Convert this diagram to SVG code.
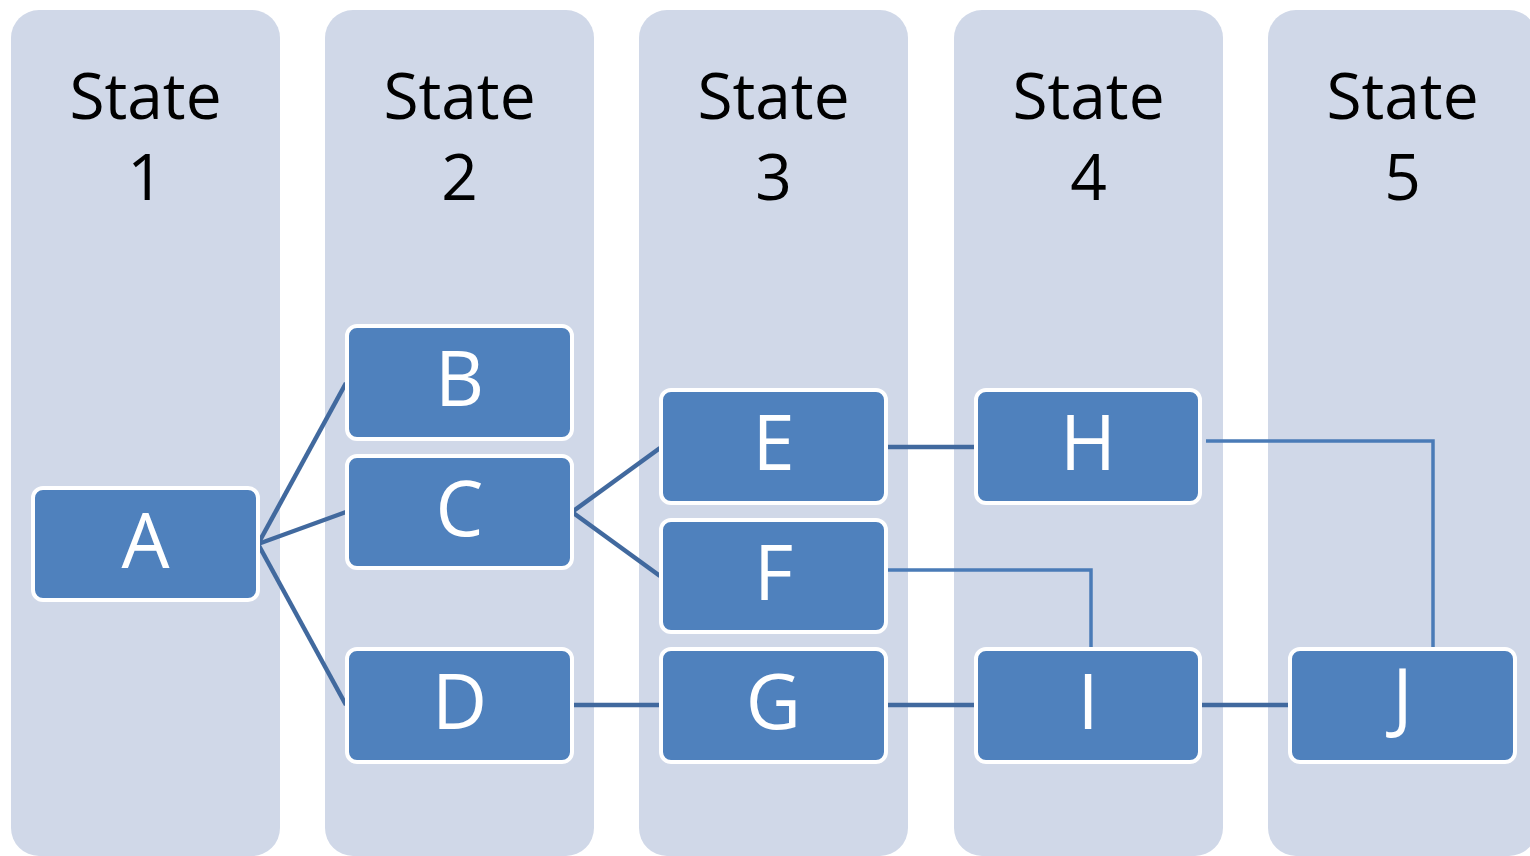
<svg xmlns="http://www.w3.org/2000/svg" width="1530" height="856" viewBox="0 0 1530 856">
<style>
.col{fill:#D0D8E8}
.hdr{font-family:"Open Sans","Noto Sans",sans-serif;font-size:64px;fill:#000;text-anchor:middle}
.box{fill:#4F81BD;stroke:#fff;stroke-width:4}
.lbl{font-family:"Open Sans","Noto Sans",sans-serif;font-size:76px;fill:#fff;text-anchor:middle}
.c1{fill:none;stroke:#41699E;stroke-width:4.5}
.c2{fill:none;stroke:#4A7BB7;stroke-width:3.5}
</style>
<rect width="1530" height="856" fill="#fff"/>
<g id="columns">
<g id="col1"><rect class="col" x="11" y="10" width="269" height="846" rx="28"/><text class="hdr" x="145.5" y="119">State</text><text class="hdr" x="145.5" y="200">1</text></g>
<g id="col2"><rect class="col" x="325" y="10" width="269" height="846" rx="28"/><text class="hdr" x="459.5" y="119">State</text><text class="hdr" x="459.5" y="200">2</text></g>
<g id="col3"><rect class="col" x="639" y="10" width="269" height="846" rx="28"/><text class="hdr" x="773.5" y="119">State</text><text class="hdr" x="773.5" y="200">3</text></g>
<g id="col4"><rect class="col" x="954" y="10" width="269" height="846" rx="28"/><text class="hdr" x="1088.5" y="119">State</text><text class="hdr" x="1088.5" y="200">4</text></g>
<g id="col5"><rect class="col" x="1268" y="10" width="269" height="846" rx="28"/><text class="hdr" x="1402.5" y="119">State</text><text class="hdr" x="1402.5" y="200">5</text></g>
</g>
<g id="connectors">
<line class="c1" x1="258" y1="544" x2="346" y2="383"/>
<line class="c1" x1="258" y1="544" x2="346" y2="512"/>
<line class="c1" x1="258" y1="544" x2="346" y2="705"/>
<line class="c1" x1="572" y1="512" x2="660" y2="448"/>
<line class="c1" x1="572" y1="512" x2="660" y2="576"/>
<line class="c1" x1="887" y1="447" x2="975" y2="447"/>
<line class="c1" x1="573" y1="705" x2="660" y2="705"/>
<line class="c1" x1="887" y1="705" x2="975" y2="705"/>
<line class="c1" x1="1201" y1="705" x2="1289" y2="705"/>
<polyline class="c2" points="1206,441 1433,441 1433,650"/>
<polyline class="c2" points="887,570 1091,570 1091,650"/>
</g>
<g id="A"><rect class="box" x="33" y="488" width="225" height="112" rx="10"/><text class="lbl" x="145.5" y="568">A</text></g>
<g id="B"><rect class="box" x="347" y="326" width="225" height="113" rx="10"/><text class="lbl" x="459.5" y="406">B</text></g>
<g id="C"><rect class="box" x="347" y="456" width="225" height="112" rx="10"/><text class="lbl" x="459.5" y="536">C</text></g>
<g id="D"><rect class="box" x="347" y="649" width="225" height="113" rx="10"/><text class="lbl" x="459.5" y="729">D</text></g>
<g id="E"><rect class="box" x="661" y="390" width="225" height="113" rx="10"/><text class="lbl" x="773.5" y="470">E</text></g>
<g id="F"><rect class="box" x="661" y="520" width="225" height="112" rx="10"/><text class="lbl" x="773.5" y="600">F</text></g>
<g id="G"><rect class="box" x="661" y="649" width="225" height="113" rx="10"/><text class="lbl" x="773.5" y="729">G</text></g>
<g id="H"><rect class="box" x="976" y="390" width="224" height="113" rx="10"/><text class="lbl" x="1088" y="470">H</text></g>
<g id="I"><rect class="box" x="976" y="649" width="224" height="113" rx="10"/><text class="lbl" x="1088" y="729">I</text></g>
<g id="J"><rect class="box" x="1290" y="649" width="225" height="113" rx="10"/><text class="lbl" x="1402.5" y="724">J</text></g>
</svg>
